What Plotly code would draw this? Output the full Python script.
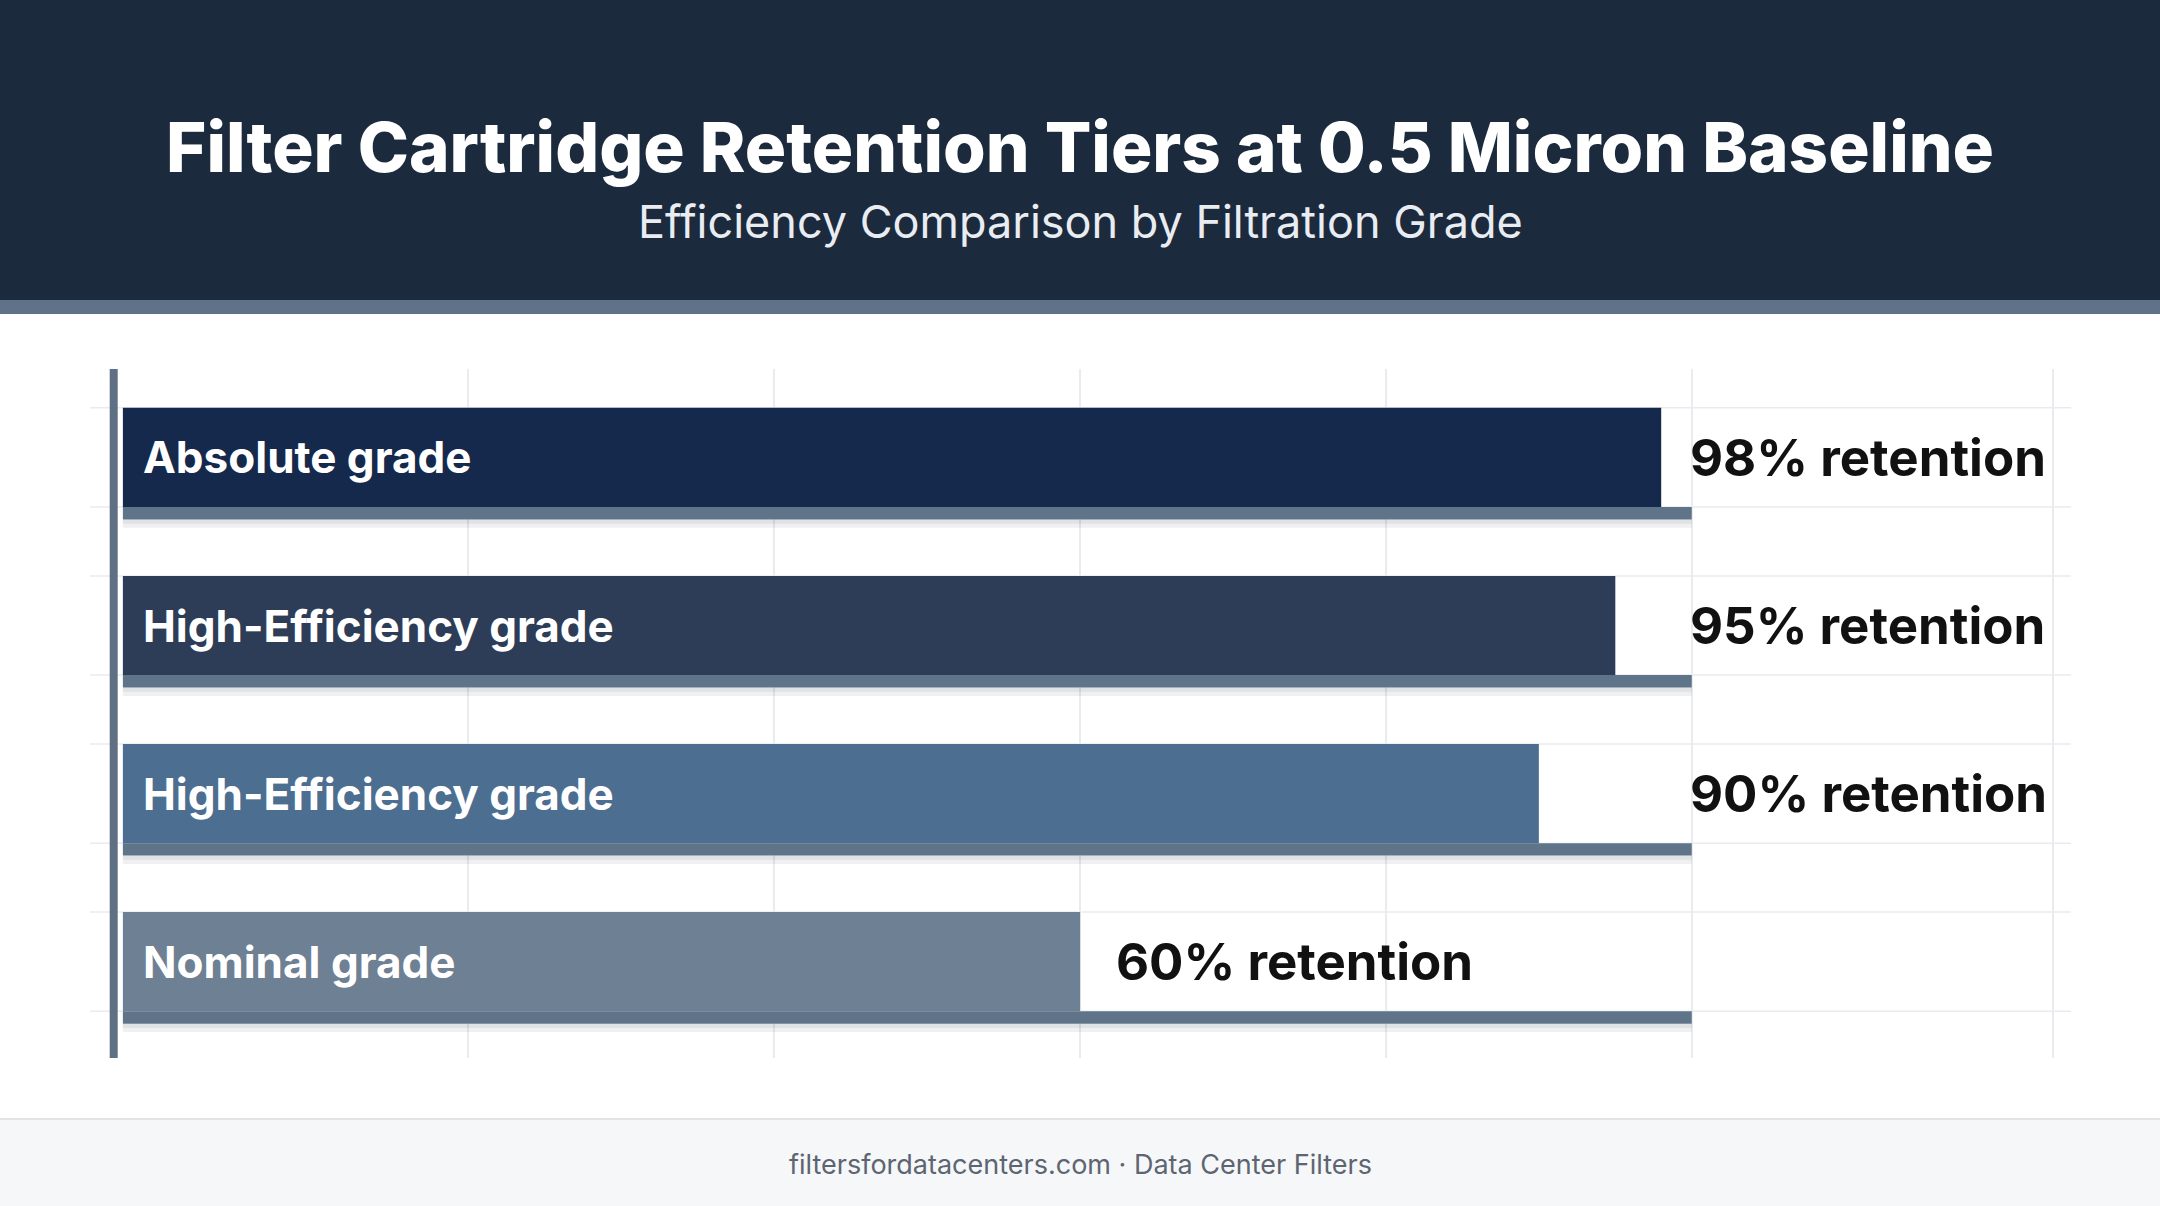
import plotly.graph_objects as go

# data
grades = ["Absolute grade", "High-Efficiency grade", "High-Efficiency grade", "Nominal grade"]
retention = [98, 95, 90, 60]
value_labels = ["98% retention", "95% retention", "90% retention", "60% retention"]
bar_colors = ["#14294b", "#2d3d58", "#4c6e91", "#6e8093"]
grid_ticks = [20, 40, 60, 80, 100, 123.6]

TITLE = "Filter Cartridge Retention Tiers at 0.5 Micron Baseline"
SUBTITLE = "Efficiency Comparison by Filtration Grade"
FOOTER = "filtersfordatacenters.com · Data Center Filters"

# layout constants (pixels)
W, H = 2160, 1206
ML, MR, MT, MB = 90, 89, 369, 148
PW, PH = W - ML - MR, H - MT - MB
BASE = -2.6        # bars start just right of the axis line
TRACK_MAX = 100
BAR_W = 0.59
TRACK_W = 0.074
FONT = "Inter"


def px(x):
    return (x - ML) / PW


def py(y):
    return (H - MB - y) / PH


rows = list(range(len(grades)))
fig = go.Figure()

# soft shadow under each track
for off, w, a in [(BAR_W / 2 + TRACK_W, 0.05, 0.07), (BAR_W / 2 + TRACK_W, 0.025, 0.07)]:
    fig.add_trace(go.Bar(
        y=rows, x=[TRACK_MAX - BASE] * len(rows), base=BASE, orientation="h",
        width=w, offset=off, marker=dict(color=f"rgba(30,40,60,{a})", line_width=0),
        hoverinfo="skip", showlegend=False,
    ))

# steel track to 100%
fig.add_trace(go.Bar(
    y=rows, x=[TRACK_MAX - BASE] * len(rows), base=BASE, orientation="h",
    width=TRACK_W, offset=BAR_W / 2, marker=dict(color="#5f7489", line_width=0),
    hoverinfo="skip", showlegend=False,
))

# main bars
fig.add_trace(go.Bar(
    y=rows, x=[v - BASE for v in retention], base=BASE, orientation="h",
    width=BAR_W, offset=-BAR_W / 2, marker=dict(color=bar_colors, line_width=0),
    hoverinfo="skip", showlegend=False,
))

shapes = []
# header
shapes.append(dict(type="rect", xref="paper", yref="paper", x0=px(0), x1=px(W),
                   y0=py(300), y1=py(0), fillcolor="#1c2a3e", line_width=0, layer="below"))
shapes.append(dict(type="rect", xref="paper", yref="paper", x0=px(0), x1=px(W),
                   y0=py(314), y1=py(300), fillcolor="#5f7287", line_width=0, layer="below"))
# footer
shapes.append(dict(type="rect", xref="paper", yref="paper", x0=px(0), x1=px(W),
                   y0=py(H), y1=py(1119), fillcolor="#f6f7f8", line_width=0, layer="below"))
shapes.append(dict(type="line", xref="paper", yref="paper", x0=px(0), x1=px(W),
                   y0=py(1119), y1=py(1119), line=dict(color="#e2e4e7", width=2), layer="below"))
# horizontal guide lines at bar edges
for r in rows:
    for e in (-BAR_W / 2, BAR_W / 2):
        shapes.append(dict(type="line", xref="paper", yref="y", x0=0, x1=1,
                           y0=r + e, y1=r + e, line=dict(color="#e9ebee", width=1.5),
                           layer="below"))
# axis line
shapes.append(dict(type="line", xref="x", yref="paper", x0=-3.2, x1=-3.2, y0=0, y1=1,
                   line=dict(color="#5f7085", width=8)))

mid_x = 0.5 * (px(0) + px(W))
annotations = [
    dict(text=TITLE, x=mid_x, y=py(147), xref="paper", yref="paper",
         xanchor="center", yanchor="middle", showarrow=False,
         font=dict(family=FONT, size=69, color="#ffffff", weight=800)),
    dict(text=SUBTITLE, x=mid_x, y=py(222), xref="paper", yref="paper",
         xanchor="center", yanchor="middle", showarrow=False,
         font=dict(family=FONT, size=45, color="#e9edf2")),
    dict(text=FOOTER, x=mid_x, y=py(1164), xref="paper", yref="paper",
         xanchor="center", yanchor="middle", showarrow=False,
         font=dict(family=FONT, size=27, color="#5d6572")),
]
for r, name, v, lab in zip(rows, grades, retention, value_labels):
    annotations.append(dict(text=name, x=BASE, y=r, xref="x", yref="y",
                            xanchor="left", yanchor="middle", xshift=18, showarrow=False,
                            font=dict(family=FONT, size=44, color="#ffffff", weight=700)))
    lx = TRACK_MAX if v > 85 else v
    annotations.append(dict(text=lab, x=lx, y=r, xref="x", yref="y",
                            xanchor="left", yanchor="middle",
                            xshift=-4 if v > 85 else 34, showarrow=False,
                            font=dict(family=FONT, size=51, color="#111111", weight=700)))

fig.update_layout(
    width=W, height=H,
    margin=dict(l=ML, r=MR, t=MT, b=MB),
    paper_bgcolor="#ffffff", plot_bgcolor="#ffffff",
    barmode="overlay",
    shapes=shapes, annotations=annotations,
    xaxis=dict(range=[-4.75, 124.8], tickvals=grid_ticks, showticklabels=False,
               showgrid=True, gridcolor="#e9ebee", gridwidth=1.5, zeroline=False,
               showline=False, fixedrange=True),
    yaxis=dict(range=[3.573, -0.526], showticklabels=False, showgrid=False,
               zeroline=False, showline=False, fixedrange=True),
)

fig.write_html("out.html", config={"displayModeBar": False},
               post_script="document.body.style.margin='0';"
                           "document.body.style.overflow='hidden';")
